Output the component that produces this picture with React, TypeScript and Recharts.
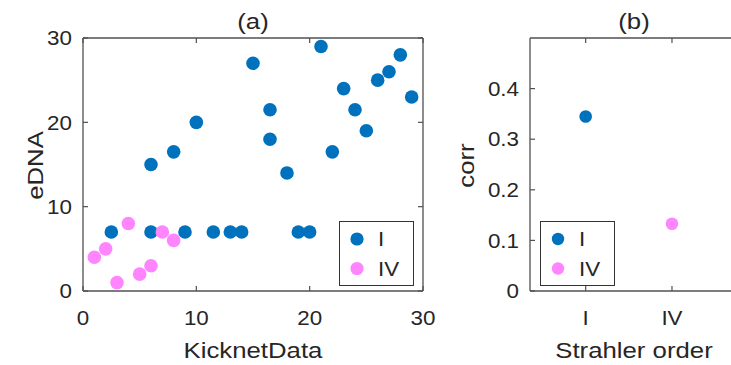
import React from 'react';
import { ScatterChart, Scatter, XAxis, YAxis, Legend } from 'recharts';

// ---------- data ----------
// Panel (a): eDNA vs KicknetData
const kicknetI = [2.5, 6, 6, 8, 10, 9, 11.5, 13, 14, 15, 16.5, 16.5, 18, 19, 20, 21, 22, 23, 24, 25, 26, 27, 28, 29];
const ednaI = [7, 15, 7, 16.5, 20, 7, 7, 7, 7, 27, 21.5, 18, 14, 7, 7, 29, 16.5, 24, 21.5, 19, 25, 26, 28, 23];
const kicknetIV = [1, 2, 3, 4, 5, 6, 7, 8];
const ednaIV = [4, 5, 1, 8, 2, 3, 7, 6];
const xTicksA = [0, 10, 20, 30];
const yTicksA = [0, 10, 20, 30];

// Panel (b): corr by Strahler order
const strahlerOrders = ['I', 'IV'];
const strahlerPositions = [1, 2];
const corrValues = [0.345, 0.133];
const yTicksB = [0, 0.1, 0.2, 0.3, 0.4];

const seriesNames = ['I', 'IV'];

// ---------- style ----------
const FONT = '"Liberation Sans", Arial, Helvetica, sans-serif';
const TEXT = '#262626';
const AXIS = '#505050';
const BLUE = '#0072BD';
const PINK = '#FF85FF';
const SX = 1.12;
const TICK_FS = 20;
const LABEL_FS = 23;

const dataAI = kicknetI.map((x, i) => ({ x, y: ednaI[i] }));
const dataAIV = kicknetIV.map((x, i) => ({ x, y: ednaIV[i] }));
const dataBI = [{ x: strahlerPositions[0], y: corrValues[0] }];
const dataBIV = [{ x: strahlerPositions[1], y: corrValues[1] }];

const fmt = (v: number) => (v === 0 ? '0' : String(v));

const BottomTick = (props: any) => {
  const { x, y, payload, labels } = props;
  const text = labels ? labels[strahlerPositions.indexOf(payload.value)] : fmt(payload.value);
  return (
    <g transform={`translate(${x},${y})`}>
      <text transform={`scale(${SX},1)`} textAnchor="middle" dy="0.72em" fontSize={TICK_FS} fill={TEXT} fontFamily={FONT}>
        {text}
      </text>
    </g>
  );
};

const LeftTick = (props: any) => {
  const { x, y, payload } = props;
  return (
    <g transform={`translate(${x},${y})`}>
      <text transform={`scale(${SX},1)`} textAnchor="end" dy="0.36em" fontSize={TICK_FS} fill={TEXT} fontFamily={FONT}>
        {fmt(payload.value)}
      </text>
    </g>
  );
};

const NoTick = () => <g />;

const XTitle = (props: any) => {
  const { viewBox, text, dy } = props;
  const { x, y, width } = viewBox;
  return (
    <text transform={`translate(${x + width / 2},${y + dy}) scale(${SX},1)`} textAnchor="middle" fontSize={LABEL_FS} fill={TEXT} fontFamily={FONT}>
      {text}
    </text>
  );
};

const YTitle = (props: any) => {
  const { viewBox, text, dx } = props;
  const { x, y, height } = viewBox;
  return (
    <text transform={`translate(${x + dx},${y + height / 2 + 1}) rotate(-90) scale(${SX},1)`} textAnchor="middle" fontSize={LABEL_FS} fill={TEXT} fontFamily={FONT}>
      {text}
    </text>
  );
};

const dot = (r: number, fill: string) => (p: any) => <circle cx={p.cx} cy={p.cy} r={r} fill={fill} />;

const LegendBox = (props: any) => {
  const { payload, r } = props;
  const items = seriesNames.map((n, i) => {
    const found = (payload || []).find((e: any) => e.value === n);
    return { name: n, color: found ? found.color : i === 0 ? BLUE : PINK };
  });
  return (
    <svg width={75} height={65} style={{ display: 'block' }}>
      <rect x={0.5} y={0.5} width={74} height={64} fill="#fff" stroke="#333" strokeWidth={1} />
      {items.map((it, i) => (
        <g key={it.name}>
          <circle cx={18} cy={18 + i * 29.5} r={r} fill={it.color} />
          <text transform={`translate(39,${18 + i * 29.5}) scale(${SX},1)`} dy="0.36em" fontSize={TICK_FS} fill={TEXT} fontFamily={FONT}>
            {it.name}
          </text>
        </g>
      ))}
    </svg>
  );
};

const axisLineStyle = { stroke: AXIS, strokeWidth: 1.3 };
const tickLineStyle = { stroke: AXIS, strokeWidth: 1.2 };

export default function App() {
  return (
    <div style={{ position: 'absolute', left: 0, top: 0, width: 731, height: 365, overflow: 'hidden', background: '#fff' }}>
      <div style={{ position: 'absolute', left: 0, top: 0 }}>
        <ScatterChart width={440} height={365} margin={{ top: 37, right: 16, bottom: 0, left: 0 }}>
          <XAxis
            xAxisId="b"
            type="number"
            dataKey="x"
            domain={[0, 30]}
            ticks={xTicksA}
            allowDataOverflow
            height={74}
            tickSize={-5}
            tickMargin={25}
            axisLine={axisLineStyle}
            tickLine={tickLineStyle}
            tick={<BottomTick />}
            label={<XTitle text="KicknetData" dy={67} />}
          />
          <XAxis
            xAxisId="t"
            orientation="top"
            type="number"
            dataKey="x"
            domain={[0, 30]}
            ticks={xTicksA}
            allowDataOverflow
            height={1}
            tickSize={-5}
            axisLine={axisLineStyle}
            tickLine={tickLineStyle}
            tick={<NoTick />}
            label={<XTitle text="(a)" dy={-8} />}
          />
          <YAxis
            yAxisId="l"
            type="number"
            dataKey="y"
            domain={[0, 30]}
            ticks={yTicksA}
            allowDataOverflow
            width={83}
            tickSize={-5}
            tickMargin={16}
            axisLine={axisLineStyle}
            tickLine={tickLineStyle}
            tick={<LeftTick />}
            label={<YTitle text="eDNA" dx={43} />}
          />
          <YAxis
            yAxisId="r"
            orientation="right"
            type="number"
            dataKey="y"
            domain={[0, 30]}
            ticks={yTicksA}
            allowDataOverflow
            width={1}
            tickSize={-5}
            axisLine={axisLineStyle}
            tickLine={tickLineStyle}
            tick={<NoTick />}
          />
          <Scatter name={seriesNames[0]} data={dataAI} xAxisId="b" yAxisId="l" fill={BLUE} isAnimationActive={false} shape={dot(6.8, BLUE)} />
          <Scatter name={seriesNames[1]} data={dataAIV} xAxisId="b" yAxisId="l" fill={PINK} isAnimationActive={false} shape={dot(6.8, PINK)} />
          <Legend
            layout="vertical"
            align="center"
            verticalAlign="middle"
            wrapperStyle={{ left: 339, top: 221, width: 75, height: 65 }}
            content={<LegendBox r={6.6} />}
          />
        </ScatterChart>
      </div>
      <div style={{ position: 'absolute', left: 440, top: 0 }}>
        <ScatterChart width={310} height={365} margin={{ top: 37, right: 11, bottom: 0, left: 0 }}>
          <XAxis
            xAxisId="b"
            type="number"
            dataKey="x"
            domain={[0.355, 2.765]}
            ticks={strahlerPositions}
            allowDataOverflow
            height={74}
            tickSize={-5}
            tickMargin={25}
            axisLine={axisLineStyle}
            tickLine={tickLineStyle}
            tick={<BottomTick labels={strahlerOrders} />}
            label={<XTitle text="Strahler order" dy={67} />}
          />
          <XAxis
            xAxisId="t"
            orientation="top"
            type="number"
            dataKey="x"
            domain={[0.355, 2.765]}
            ticks={strahlerPositions}
            allowDataOverflow
            height={1}
            tickSize={-5}
            axisLine={axisLineStyle}
            tickLine={tickLineStyle}
            tick={<NoTick />}
            label={<XTitle text="(b)" dy={-8} />}
          />
          <YAxis
            yAxisId="l"
            type="number"
            dataKey="y"
            domain={[0, 0.5]}
            ticks={yTicksB}
            allowDataOverflow
            width={90}
            tickSize={-5}
            tickMargin={16}
            axisLine={axisLineStyle}
            tickLine={tickLineStyle}
            tick={<LeftTick />}
            label={<YTitle text="corr" dx={34} />}
          />
          <YAxis
            yAxisId="r"
            orientation="right"
            type="number"
            dataKey="y"
            domain={[0, 0.5]}
            ticks={yTicksB}
            allowDataOverflow
            width={1}
            tickSize={-5}
            axisLine={axisLineStyle}
            tickLine={tickLineStyle}
            tick={<NoTick />}
          />
          <Scatter name={seriesNames[0]} data={dataBI} xAxisId="b" yAxisId="l" fill={BLUE} isAnimationActive={false} shape={dot(6.3, BLUE)} />
          <Scatter name={seriesNames[1]} data={dataBIV} xAxisId="b" yAxisId="l" fill={PINK} isAnimationActive={false} shape={dot(6.3, PINK)} />
          <Legend
            layout="vertical"
            align="center"
            verticalAlign="middle"
            wrapperStyle={{ left: 100, top: 221, width: 75, height: 65 }}
            content={<LegendBox r={6.2} />}
          />
        </ScatterChart>
      </div>
    </div>
  );
}
